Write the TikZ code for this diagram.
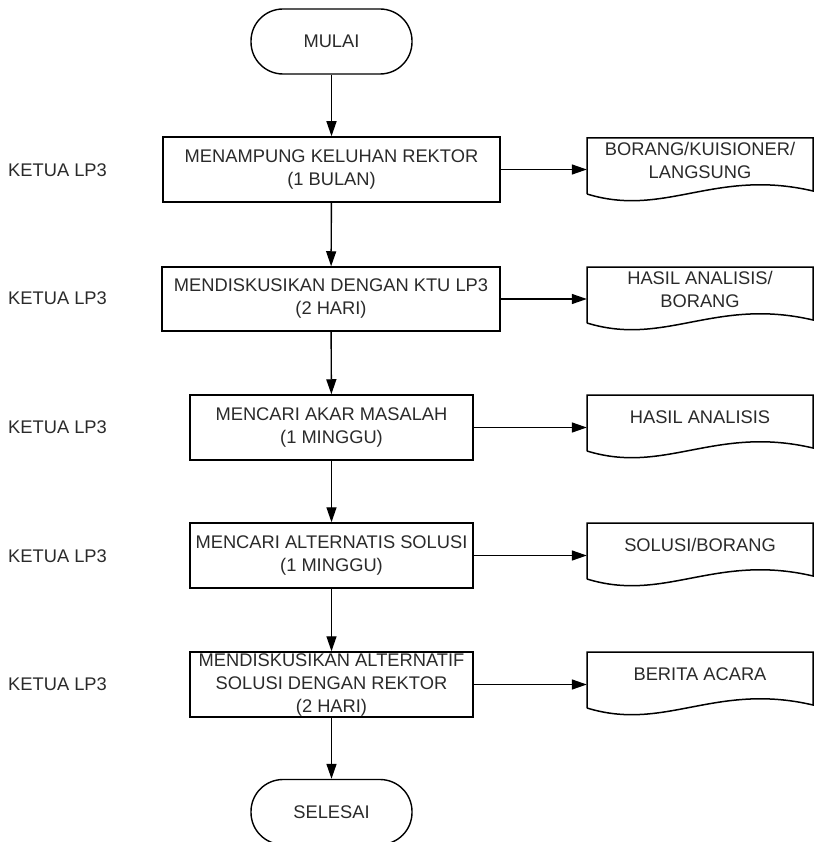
\documentclass[tikz,border=0pt]{standalone}
\usepackage{fontspec}
\setmainfont{Liberation Sans}
\usetikzlibrary{arrows.meta,calc}
\definecolor{txt}{HTML}{2A2A2A}
\tikzset{
  every node/.style={font=\fontsize{18.3}{23}\selectfont, text=txt, align=center, inner sep=0pt},
  procbox/.style={draw, line width=1.5pt, rectangle},
  term/.style={draw, line width=1.4pt, rectangle, rounded corners=32pt, minimum width=161pt, minimum height=65pt},
  docbody/.style={rectangle, minimum width=226pt, minimum height=56pt, anchor=north},
  docline/.style={draw, line width=1.5pt},
  flow/.style={line width=1.4pt, -{Triangle[length=15pt,width=10pt]}},
  lane/.style={anchor=west}
}
\begin{document}
\begin{tikzpicture}[x=1pt,y=-1pt]
\useasboundingbox (0,0) rectangle (814,842);
\fill[white] (0,0) rectangle (814,842);

% terminals
\node[term] (start) at (331.5,41.5) {MULAI};
\node[term] (end) at (331.5,812) {SELESAI};

% process boxes
\node[procbox, minimum width=337pt, minimum height=65pt] (b1) at (331.5,169.5) {MENAMPUNG KELUHAN REKTOR\\(1 BULAN)};
\node[procbox, minimum width=338pt, minimum height=64pt] (b2) at (331,299) {MENDISKUSIKAN DENGAN KTU LP3\\(2 HARI)};
\node[procbox, minimum width=283pt, minimum height=65pt] (b3) at (331.5,427.5) {MENCARI AKAR MASALAH\\(1 MINGGU)};
\node[procbox, minimum width=283pt, minimum height=65pt] (b4) at (331.5,555.5) {MENCARI ALTERNATIS SOLUSI\\(1 MINGGU)};
\node[procbox, minimum width=283pt, minimum height=65pt] (b5) at (331.5,684.5) {MENDISKUSIKAN ALTERNATIF\\SOLUSI DENGAN REKTOR\\(2 HARI)};

% lane labels
\node[lane] (k1) at (8,170) {KETUA LP3};
\node[lane] (k2) at (8,298) {KETUA LP3};
\node[lane] (k3) at (8,427) {KETUA LP3};
\node[lane] (k4) at (8,556) {KETUA LP3};
\node[lane] (k5) at (8,684) {KETUA LP3};

% documents
\foreach \n/\t/\txt in {1/138/{BORANG/KUISIONER/\\LANGSUNG}, 2/267/{HASIL ANALISIS/\\BORANG}, 3/395/{HASIL ANALISIS}, 4/523/{SOLUSI/BORANG}, 5/652/{BERITA ACARA}}{
  \node[docbody] (d\n) at (700,\t) {};
  \node (dt\n) at (700,\t+22) {\txt};
  \draw[docline] (587,\t+56) -- (587,\t) -- (813,\t) -- (813,\t+53)
     .. controls (715,\t+30) and (665,\t+80) .. (587,\t+56);
}

% connectors
\draw[flow] (start) -- (b1);
\draw[flow] (b1) -- (b2);
\draw[flow] (b2) -- (b3);
\draw[flow] (b3) -- (b4);
\draw[flow] (b4) -- (b5);
\draw[flow] (b5) -- (end);
\foreach \n in {1,...,5}{
  \draw[flow] (b\n.east) -- (b\n.east -| d\n.west);
}
\end{tikzpicture}
\end{document}
